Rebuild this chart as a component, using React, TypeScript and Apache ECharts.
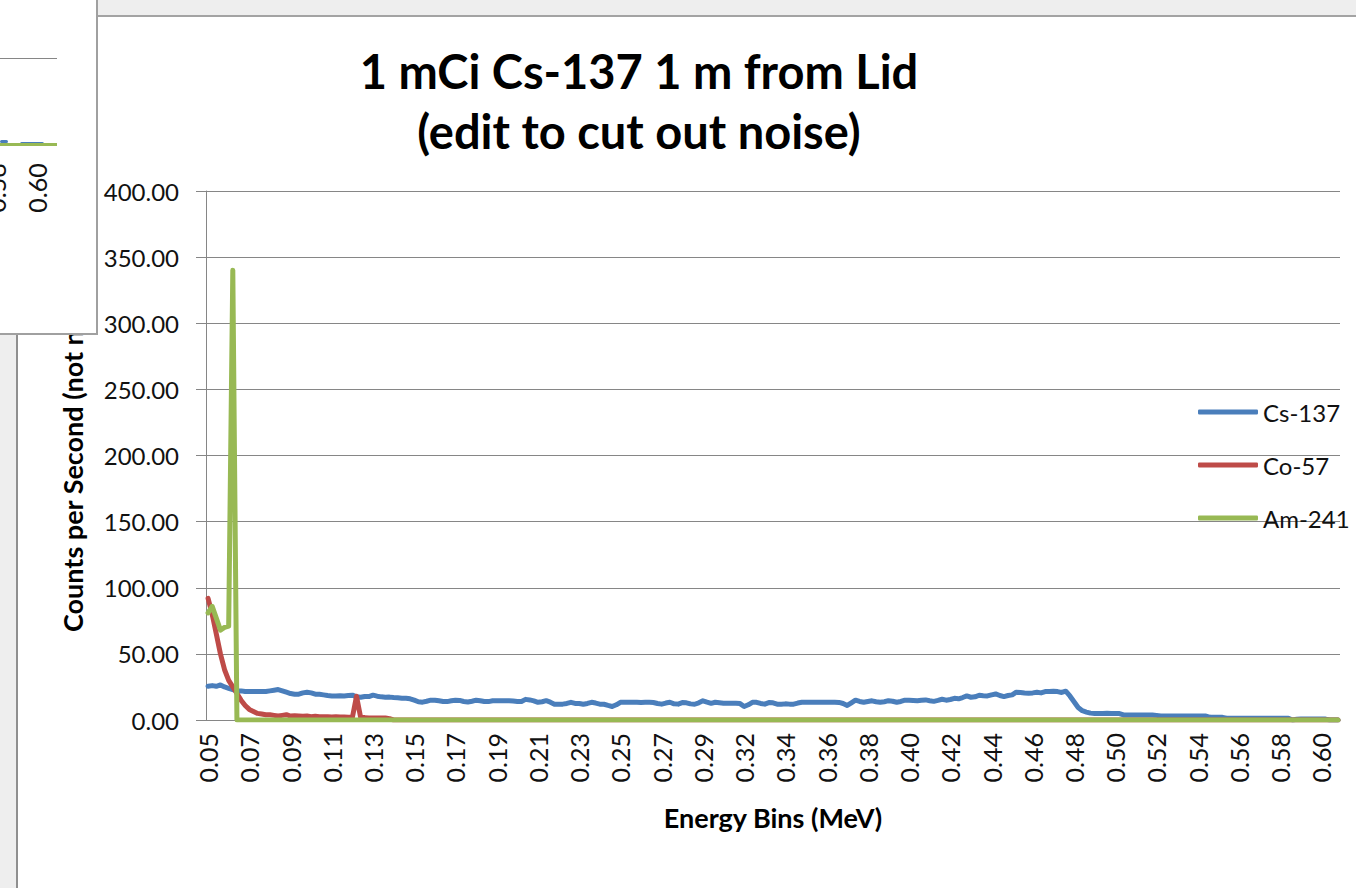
import React, { useEffect, useRef } from "react";
import * as echarts from "echarts";

// ---- data ----
const binStartMeV = 0.0512;
const binWidthMeV = 0.00203;
const binCount = 275;
const energyBins: string[] = [];
for (let i = 0; i < binCount; i++) energyBins.push((binStartMeV + i * binWidthMeV).toFixed(4));

const seriesNames = ["Cs-137", "Co-57", "Am-241"];

const cs137 = [
  25.5, 26, 25.5, 26.5, 25, 24, 23, 22, 22, 21.5,
  21.5, 21.5, 21.5, 21.5, 21.5, 22, 22.5, 23, 22, 21,
  20, 19.5, 19.5, 20.5, 21, 20.5, 19.5, 19.5, 19, 18.5,
  18.2, 18.2, 18.3, 18.2, 18.5, 18.8, 17.5, 17.2, 17.8, 17.7,
  18.8, 18, 17.5, 17.2, 17.3, 17, 16.8, 16.5, 16.4, 16,
  15, 13.8, 13.5, 14.2, 15, 15, 14.5, 14, 13.9, 14.5,
  15, 14.8, 14, 13.6, 14.2, 15, 14.6, 14, 13.9, 14.5,
  14.5, 14.5, 14.5, 14.5, 14.3, 14, 14, 15.6, 15.2, 14.5,
  13.4, 13.8, 14.6, 13.5, 12, 11.9, 12, 12.5, 13.4, 12.5,
  12.5, 11.9, 12.5, 13.4, 12.8, 12, 11.9, 11, 10.2, 11.5,
  13.4, 13.4, 13.4, 13.4, 13.4, 13.3, 13.4, 13.4, 13.2, 12.5,
  12, 12.8, 13.4, 12.2, 12, 13.2, 13, 12.2, 11.9, 13,
  14.5, 13.5, 12.6, 13.4, 13, 12.6, 12.6, 12.6, 12.6, 12.4,
  10.2, 11.5, 13.4, 13.4, 12.5, 12, 13.2, 13, 12, 11.9,
  12.2, 12, 12, 12.8, 13.4, 13.4, 13.4, 13.4, 13.4, 13.4,
  13.4, 13.4, 13.4, 13.3, 12.5, 11, 13, 15, 14, 13.4,
  14, 14.5, 13.8, 13.4, 13.8, 14.6, 14.2, 13.4, 14, 15,
  15, 14.8, 14.6, 15, 15.2, 14.6, 14.1, 14.8, 15.7, 15,
  15.5, 16.4, 16, 17, 18.2, 17.2, 17.5, 18.7, 18.4, 18.2,
  19, 19.7, 18.5, 17.7, 18.5, 19, 21, 20.8, 20.5, 20.3,
  20.5, 21, 20.5, 21.5, 21.5, 21.8, 21.5, 20.8, 21.8, 18.2,
  13.8, 9.4, 7, 6, 5.2, 5, 5, 5, 5.1, 5,
  5, 4.9, 3.8, 3.8, 3.8, 3.8, 3.8, 3.8, 3.8, 3.8,
  3.5, 3, 3, 3, 3, 3, 3, 3, 3, 3,
  3, 3, 3, 2, 2, 2, 2, 1.3, 1.3, 1.3,
  1.3, 1.3, 1.3, 1.3, 1.3, 1.3, 1.3, 1.3, 1.3, 1.3,
  1.3, 1.3, 1.3, 0, 0.5, 0.7, 0.7, 0.7, 0.7, 0.7,
  0.7, 0.7, 0, 0, 0,
];

const co57 = [
  92, 80, 65, 50, 38, 30, 25, 20, 15, 11,
  8, 6.5, 5, 4.5, 4, 4, 3.5, 3, 3.5, 4,
  3, 3.2, 3, 2.8, 3, 2.5, 2.8, 2.5, 2.5, 2.5,
  2.3, 2.5, 2.3, 2.2, 2, 2, 18, 2, 1.8, 1.5,
  1.5, 1.5, 1.5, 1.5, 1, 0, 0, 0, 0, 0,
  0, 0, 0, 0, 0, 0, 0, 0, 0, 0, 0, 0, 0, 0, 0, 0, 0, 0, 0, 0,
  0, 0, 0, 0, 0, 0, 0, 0, 0, 0, 0, 0, 0, 0, 0, 0, 0, 0, 0, 0,
  0, 0, 0, 0, 0, 0, 0, 0, 0, 0, 0, 0, 0, 0, 0, 0, 0, 0, 0, 0,
  0, 0, 0, 0, 0, 0, 0, 0, 0, 0, 0, 0, 0, 0, 0, 0, 0, 0, 0, 0,
  0, 0, 0, 0, 0, 0, 0, 0, 0, 0, 0, 0, 0, 0, 0, 0, 0, 0, 0, 0,
  0, 0, 0, 0, 0, 0, 0, 0, 0, 0, 0, 0, 0, 0, 0, 0, 0, 0, 0, 0,
  0, 0, 0, 0, 0, 0, 0, 0, 0, 0, 0, 0, 0, 0, 0, 0, 0, 0, 0, 0,
  0, 0, 0, 0, 0, 0, 0, 0, 0, 0, 0, 0, 0, 0, 0, 0, 0, 0, 0, 0,
  0, 0, 0, 0, 0, 0, 0, 0, 0, 0, 0, 0, 0, 0, 0, 0, 0, 0, 0, 0,
  0, 0, 0, 0, 0, 0, 0, 0, 0, 0, 0, 0, 0, 0, 0, 0, 0, 0, 0, 0,
  0, 0, 0, 0, 0, 0, 0, 0, 0, 0, 0, 0, 0, 0, 0, 0, 0, 0, 0, 0,
  0, 0, 0, 0, 0,
];

const am241 = [
  81, 86, 77, 68, 70, 71, 340, 0, 0, 0,
  0, 0, 0, 0, 0, 0, 0, 0, 0, 0, 0, 0, 0, 0, 0, 0, 0, 0, 0, 0,
  0, 0, 0, 0, 0, 0, 0, 0, 0, 0, 0, 0, 0, 0, 0, 0, 0, 0, 0, 0,
  0, 0, 0, 0, 0, 0, 0, 0, 0, 0, 0, 0, 0, 0, 0, 0, 0, 0, 0, 0,
  0, 0, 0, 0, 0, 0, 0, 0, 0, 0, 0, 0, 0, 0, 0, 0, 0, 0, 0, 0,
  0, 0, 0, 0, 0, 0, 0, 0, 0, 0, 0, 0, 0, 0, 0, 0, 0, 0, 0, 0,
  0, 0, 0, 0, 0, 0, 0, 0, 0, 0, 0, 0, 0, 0, 0, 0, 0, 0, 0, 0,
  0, 0, 0, 0, 0, 0, 0, 0, 0, 0, 0, 0, 0, 0, 0, 0, 0, 0, 0, 0,
  0, 0, 0, 0, 0, 0, 0, 0, 0, 0, 0, 0, 0, 0, 0, 0, 0, 0, 0, 0,
  0, 0, 0, 0, 0, 0, 0, 0, 0, 0, 0, 0, 0, 0, 0, 0, 0, 0, 0, 0,
  0, 0, 0, 0, 0, 0, 0, 0, 0, 0, 0, 0, 0, 0, 0, 0, 0, 0, 0, 0,
  0, 0, 0, 0, 0, 0, 0, 0, 0, 0, 0, 0, 0, 0, 0, 0, 0, 0, 0, 0,
  0, 0, 0, 0, 0, 0, 0, 0, 0, 0, 0, 0, 0, 0, 0, 0, 0, 0, 0, 0,
  0, 0, 0, 0, 0, 0, 0, 0, 0, 0, 0, 0, 0, 0, 0, 0, 0, 0, 0, 0,
  0, 0, 0, 0, 0,
];

const FONT = "Lato, 'Open Sans', sans-serif";
const GRID_COLOR = "#868686";
const TEXT_COLOR = "#111111";
const COLORS = ["#4A7EBB", "#BE4B48", "#98B954"];

export default function App() {
  const ref = useRef<HTMLDivElement>(null);

  useEffect(() => {
    const chart = echarts.init(ref.current!, null, { renderer: "svg" });
    chart.setOption({
      animation: false,
      backgroundColor: "#ffffff",
      textStyle: { fontFamily: FONT },
      title: {
        text: "1 mCi Cs-137 1 m from Lid\n(edit to cut out noise)",
        left: 634,
        textAlign: "center",
        top: 36,
        textStyle: {
          fontFamily: FONT,
          fontWeight: "bold",
          fontSize: 47,
          lineHeight: 60,
          color: "#000",
        },
      },
      legend: {
        data: seriesNames,
        orient: "vertical",
        left: 1193,
        top: 395,
        itemWidth: 60,
        itemHeight: 5,
        itemGap: 29,
        icon: "roundRect",
        selectedMode: false,
        textStyle: { fontFamily: FONT, fontSize: 24, lineHeight: 24, color: TEXT_COLOR },
      },
      grid: { left: 206, right: 16, top: 191, bottom: 168, containLabel: false },
      xAxis: {
        type: "category",
        data: energyBins,
        boundaryGap: true,
        name: "Energy Bins (MeV)",
        nameLocation: "middle",
        nameGap: 84,
        nameTextStyle: { fontFamily: FONT, fontWeight: "bold", fontSize: 27, color: "#000" },
        axisLine: { show: true, lineStyle: { color: GRID_COLOR, width: 1 } },
        axisTick: { show: false },
        axisLabel: {
          interval: 9,
          rotate: 90,
          margin: 13,
          fontFamily: FONT,
          fontSize: 25,
          color: TEXT_COLOR,
          formatter: (v: string) => parseFloat(v).toFixed(2),
        },
        splitLine: { show: false },
      },
      yAxis: {
        type: "value",
        min: 0,
        max: 400,
        interval: 50,
        axisLine: { show: true, lineStyle: { color: GRID_COLOR, width: 1 } },
        axisTick: { show: true, length: 10, lineStyle: { color: GRID_COLOR } },
        axisLabel: {
          margin: 27,
          fontFamily: FONT,
          fontSize: 24,
          color: TEXT_COLOR,
          formatter: (v: number) => v.toFixed(2),
        },
        splitLine: { show: true, lineStyle: { color: GRID_COLOR, width: 1 } },
      },
      graphic: [
        {
          type: "text",
          x: 72,
          y: 632,
          rotation: Math.PI / 2,
          style: {
            text: "Counts per Second (not normalized)",
            font: `bold 27px ${FONT}`,
            fill: "#000",
            align: "left",
            verticalAlign: "middle",
          },
        },
      ],
      series: [
        { name: seriesNames[0], data: cs137, color: COLORS[0] },
        { name: seriesNames[1], data: co57, color: COLORS[1] },
        { name: seriesNames[2], data: am241, color: COLORS[2] },
      ].map((s) => ({
        type: "line",
        name: s.name,
        data: s.data,
        symbol: "none",
        color: s.color,
        lineStyle: { width: 5, color: s.color, cap: "round", join: "round" },
      })),
    });
    return () => chart.dispose();
  }, []);

  return (
    <div style={{ position: "fixed", left: 0, top: 0, width: 1356, height: 888, overflow: "hidden", background: "#fff" }}>
      <div ref={ref} style={{ position: "absolute", left: 0, top: 0, width: 1356, height: 888 }} />
      {/* top window bar */}
      <div style={{ position: "absolute", left: 97, top: 0, width: 1259, height: 15, background: "#eeeeee", borderBottom: "2px solid #a3a3a3" }} />
      {/* left gray strip */}
      <div style={{ position: "absolute", left: 0, top: 334, width: 16, height: 554, background: "#eeeeee", borderRight: "2px solid #8f8f8f" }} />
      {/* small overlapping window */}
      <div style={{ position: "absolute", left: 0, top: 0, width: 96, height: 333, background: "#fff", borderRight: "2px solid #a0a0a0", borderBottom: "2px solid #a0a0a0", overflow: "hidden", fontFamily: FONT }}>
        <div style={{ position: "absolute", left: 0, top: 58, width: 57, height: 1, background: GRID_COLOR }} />
        <div style={{ position: "absolute", left: 0, top: 140, width: 8, height: 3, background: COLORS[0], borderRadius: 2 }} />
        <div style={{ position: "absolute", left: 20, top: 142, width: 24, height: 3, background: COLORS[0], borderRadius: 2 }} />
        <div style={{ position: "absolute", left: 0, top: 143, width: 57, height: 3, background: COLORS[2] }} />
        <div style={{ position: "absolute", left: 37, top: 188, transform: "translate(-50%, -50%) rotate(-90deg)", fontSize: 25, color: TEXT_COLOR, whiteSpace: "nowrap", lineHeight: "25px" }}>0.60</div>
        <div style={{ position: "absolute", left: -4, top: 188, transform: "translate(-50%, -50%) rotate(-90deg)", fontSize: 25, color: TEXT_COLOR, whiteSpace: "nowrap", lineHeight: "25px" }}>0.58</div>
      </div>
    </div>
  );
}
